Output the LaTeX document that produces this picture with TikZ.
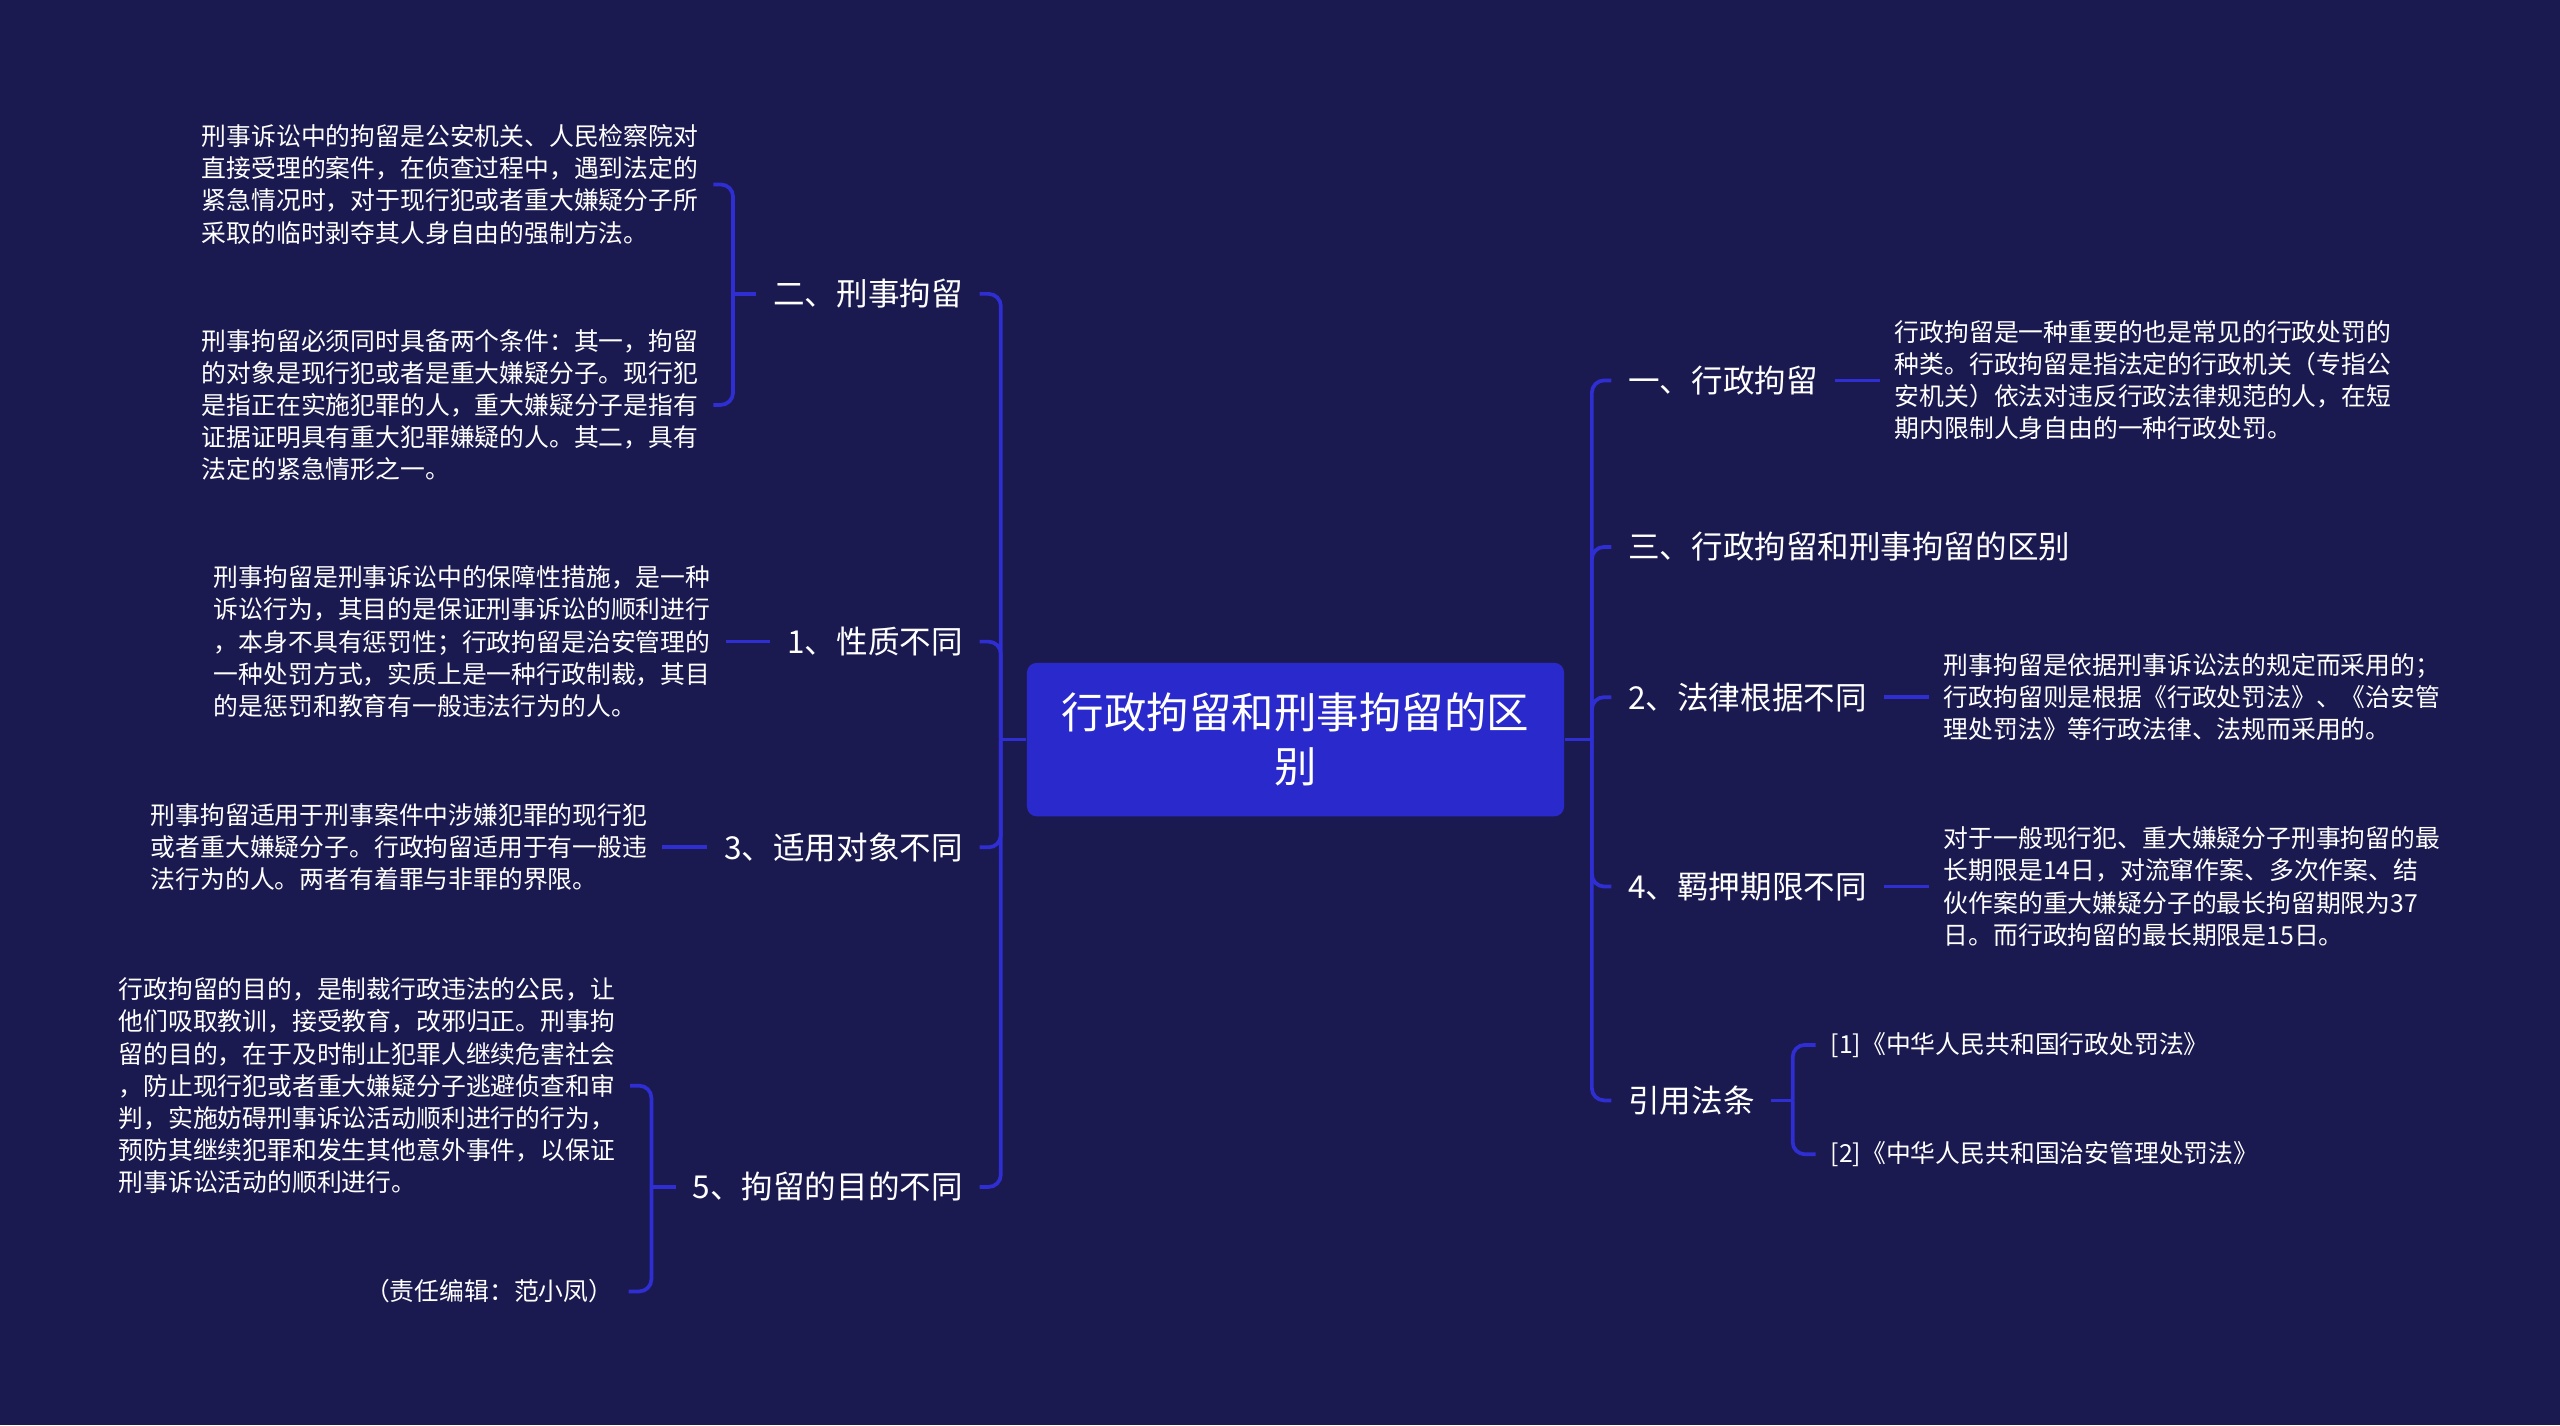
\documentclass[tikz,border=0pt]{standalone}
\usepackage{fontspec}
\newfontfamily\cjk{Noto Sans CJK SC}
\usetikzlibrary{positioning}

\definecolor{bgnavy}{RGB}{27,26,80}
\definecolor{rootblue}{RGB}{42,42,204}
\definecolor{linkblue}{RGB}{46,46,210}

\begin{document}
\begin{tikzpicture}[
    node distance=0.55cm,
    every node/.style={font=\cjk, text=white},
    rootbox/.style={rectangle, rounded corners=0.12cm, fill=rootblue, minimum width=6.58cm, minimum height=1.88cm, align=center, font=\cjk\fontsize{14.8pt}{18.8pt}\selectfont},
    topicnode/.style={rectangle, inner xsep=0.2cm, inner ysep=0.1cm, font=\cjk\fontsize{11pt}{13pt}\selectfont},
    notetext/.style={rectangle, inner xsep=0.18cm, inner ysep=0.05cm, align=left, font=\cjk\fontsize{8.65pt}{11.2pt}\selectfont},
    branchline/.style={draw=linkblue, line width=1.3pt, rounded corners=0.15cm}
]

% Background
\fill[bgnavy] (0,0) rectangle (31.36,17.46);

% Root
\node[rootbox] (root) at (15.87,8.40) {行政拘留和刑事拘留的区\\别};

% Left topics
\node[topicnode, anchor=east] (l2) at (12.0,13.86) {二、刑事拘留};
\node[topicnode, anchor=east] (l1) at (12.0,9.60) {1、性质不同};
\node[topicnode, anchor=east] (l3) at (12.0,7.08) {3、适用对象不同};
\node[topicnode, anchor=east] (l5) at (12.0,2.92) {5、拘留的目的不同};

% Right topics
\node[topicnode, anchor=west] (r1) at (19.74,12.80) {一、行政拘留};
\node[topicnode, anchor=west] (r3) at (19.74,10.76) {三、行政拘留和刑事拘留的区别};
\node[topicnode, anchor=west] (r2) at (19.74,8.92) {2、法律根据不同};
\node[topicnode, anchor=west] (r4) at (19.74,6.60) {4、羁押期限不同};
\node[topicnode, anchor=west] (r5) at (19.74,3.98) {引用法条};

% Notes for 二
\node[notetext, anchor=east] (t2a) at (8.74,15.20) {刑事诉讼中的拘留是公安机关、人民检察院对\\直接受理的案件，在侦查过程中，遇到法定的\\紧急情况时，对于现行犯或者重大嫌疑分子所\\采取的临时剥夺其人身自由的强制方法。};
\node[notetext, anchor=east] (t2b) at (8.74,12.50) {刑事拘留必须同时具备两个条件：其一，拘留\\的对象是现行犯或者是重大嫌疑分子。现行犯\\是指正在实施犯罪的人，重大嫌疑分子是指有\\证据证明具有重大犯罪嫌疑的人。其二，具有\\法定的紧急情形之一。};

% Notes for 1 and 3
\node[notetext, left=of l1] (t1) {刑事拘留是刑事诉讼中的保障性措施，是一种\\诉讼行为，其目的是保证刑事诉讼的顺利进行\\，本身不具有惩罚性；行政拘留是治安管理的\\一种处罚方式，实质上是一种行政制裁，其目\\的是惩罚和教育有一般违法行为的人。};
\node[notetext, left=of l3] (t3) {刑事拘留适用于刑事案件中涉嫌犯罪的现行犯\\或者重大嫌疑分子。行政拘留适用于有一般违\\法行为的人。两者有着罪与非罪的界限。};

% Notes for 5
\node[notetext, anchor=east] (t5a) at (7.72,4.16) {行政拘留的目的，是制裁行政违法的公民，让\\他们吸取教训，接受教育，改邪归正。刑事拘\\留的目的，在于及时制止犯罪人继续危害社会\\，防止现行犯或者重大嫌疑分子逃避侦查和审\\判，实施妨碍刑事诉讼活动顺利进行的行为，\\预防其继续犯罪和发生其他意外事件，以保证\\刑事诉讼活动的顺利进行。};
\node[notetext, anchor=east] (t5b) at (7.70,1.64) {（责任编辑：范小凤）};

% Notes on the right
\node[notetext, right=of r1] (tr1) {行政拘留是一种重要的也是常见的行政处罚的\\种类。行政拘留是指法定的行政机关（专指公\\安机关）依法对违反行政法律规范的人，在短\\期内限制人身自由的一种行政处罚。};
\node[notetext, right=of r2] (tr2) {刑事拘留是依据刑事诉讼法的规定而采用的；\\行政拘留则是根据《行政处罚法》、《治安管\\理处罚法》等行政法律、法规而采用的。};
\node[notetext, right=of r4] (tr4) {对于一般现行犯、重大嫌疑分子刑事拘留的最\\长期限是14日，对流窜作案、多次作案、结\\伙作案的重大嫌疑分子的最长拘留期限为37\\日。而行政拘留的最长期限是15日。};

% References
\node[notetext, anchor=west] (ref1) at (22.24,4.66) {[1]《中华人民共和国行政处罚法》};
\node[notetext, anchor=west] (ref2) at (22.24,3.32) {[2]《中华人民共和国治安管理处罚法》};

% Trunks
\coordinate (ltrunk) at (12.26,8.40);
\coordinate (rtrunk) at (19.50,8.40);
\draw[branchline] (root.west) -- (ltrunk);
\draw[branchline] (root.east) -- (rtrunk);
\foreach \n in {l2,l1,l3,l5} \draw[branchline] (ltrunk) |- (\n.east);
\foreach \n in {r1,r3,r2,r4,r5} \draw[branchline] (rtrunk) |- (\n.west);

% Forks
\coordinate (l2fork) at (8.98,13.86);
\draw[branchline] (l2.west) -- (l2fork);
\draw[branchline] (l2fork) |- (t2a.east);
\draw[branchline] (l2fork) |- (t2b.east);

\coordinate (l5fork) at (7.98,2.92);
\draw[branchline] (l5.west) -- (l5fork);
\draw[branchline] (l5fork) |- (t5a.east);
\draw[branchline] (l5fork) |- (t5b.east);

\coordinate (r5fork) at (21.96,3.98);
\draw[branchline] (r5.east) -- (r5fork);
\draw[branchline] (r5fork) |- (ref1.west);
\draw[branchline] (r5fork) |- (ref2.west);

% Straight links
\draw[branchline] (l1.west) -- (t1.east);
\draw[branchline] (l3.west) -- (t3.east);
\draw[branchline] (r1.east) -- (tr1.west);
\draw[branchline] (r2.east) -- (tr2.west);
\draw[branchline] (r4.east) -- (tr4.west);

\end{tikzpicture}
\end{document}
